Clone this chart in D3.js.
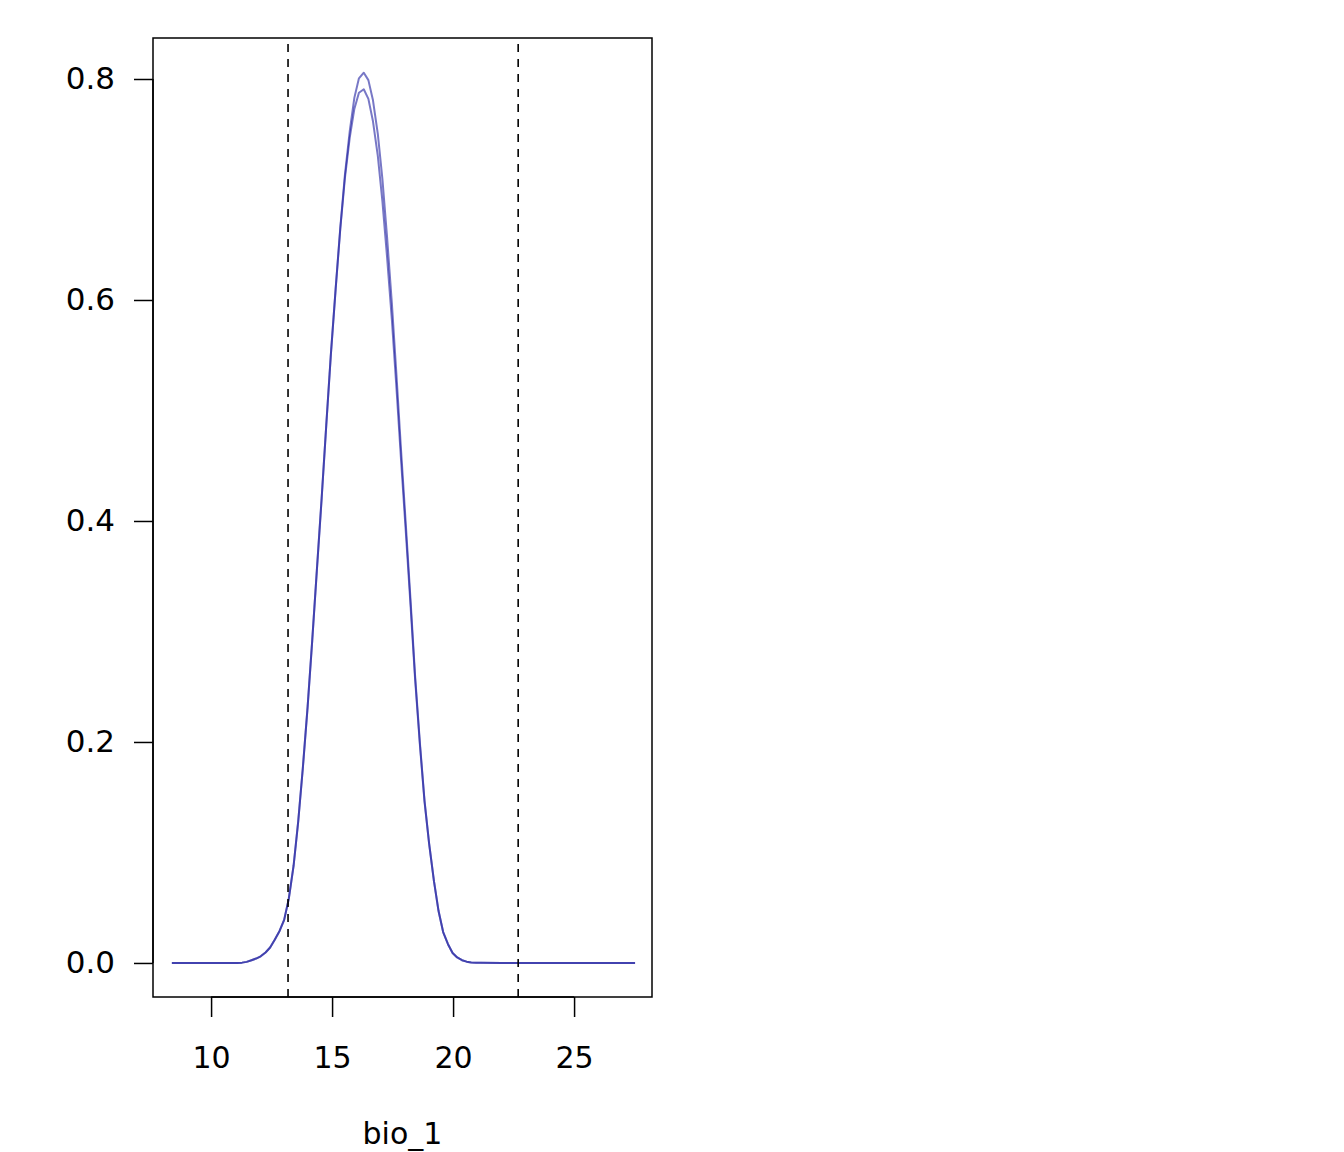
<!DOCTYPE html>
<html>
<head>
<meta charset="utf-8">
<script src="https://cdn.jsdelivr.net/npm/d3@7"></script>
<style>
  html, body { margin: 0; padding: 0; background: #fff; }
  svg { display: block; }
  text { font-family: "DejaVu Sans", sans-serif; fill: #000; }
</style>
</head>
<body>
<svg id="chart" width="1344" height="1152"></svg>
<script>
// ---- data ----
const xValues = [8.38, 9.5, 10.5, 11.09,
  11.28, 11.47, 11.67, 11.86, 12.05, 12.25, 12.44, 12.63, 12.83, 13.02,
  13.21, 13.41, 13.60, 13.79, 13.99, 14.18, 14.37, 14.57, 14.76, 14.95,
  15.15, 15.34, 15.53, 15.73, 15.92, 16.11, 16.31, 16.50, 16.69, 16.89,
  17.08, 17.27, 17.47, 17.66, 17.85, 18.05, 18.24, 18.43, 18.63, 18.82,
  19.01, 19.21, 19.40, 19.59, 19.79, 19.98, 20.17, 20.37, 20.56, 20.75,
  20.95, 21.14, 22.0, 24.0, 26.0, 27.52];

const curveLower = [0, 0, 0, 0,
  0.0003, 0.0010, 0.0025, 0.0040, 0.0060, 0.0095, 0.0140, 0.0210, 0.0290, 0.0390,
  0.0580, 0.0880, 0.1280, 0.1760, 0.2320, 0.2920, 0.3551, 0.4208, 0.4868, 0.5508,
  0.6108, 0.6645, 0.7102, 0.7469, 0.7729, 0.7876, 0.7907, 0.7820, 0.7617, 0.7304,
  0.6893, 0.6395, 0.5823, 0.5203, 0.4552, 0.3889, 0.3243, 0.2570, 0.1970, 0.1460,
  0.1080, 0.0740, 0.0470, 0.0280, 0.0170, 0.0090, 0.0050, 0.0025, 0.0012, 0.0005,
  0.0002, 0.0001, 0, 0, 0, 0];

const curveUpper = [0, 0, 0, 0,
  0.0003, 0.0010, 0.0025, 0.0040, 0.0060, 0.0095, 0.0140, 0.0210, 0.0290, 0.0390,
  0.0580, 0.0880, 0.1280, 0.1760, 0.2320, 0.2920, 0.3551, 0.4208, 0.4868, 0.5508,
  0.6108, 0.6655, 0.7132, 0.7529, 0.7829, 0.8006, 0.8057, 0.7990, 0.7807, 0.7504,
  0.7093, 0.6575, 0.5973, 0.5323, 0.4642, 0.3959, 0.3293, 0.2600, 0.1990, 0.1470,
  0.1080, 0.0740, 0.0470, 0.0280, 0.0170, 0.0090, 0.0050, 0.0025, 0.0012, 0.0005,
  0.0002, 0.0001, 0, 0, 0, 0];

const series = [curveLower, curveUpper];
const dashedX = [13.18, 22.69];
const xTicks = [10, 15, 20, 25];
const yTicks = [0.0, 0.2, 0.4, 0.6, 0.8];
const xLabel = "bio_1";

// ---- layout ----
const svg = d3.select("#chart");
const mLeft = 153, mRight = 652, mTop = 38, mBottom = 997;

const x = d3.scaleLinear().domain([7.6, 28.22]).range([mLeft, mRight]);
const y = d3.scaleLinear().domain([-0.0308, 0.8371]).range([mBottom, mTop]);

// curves
const line = d3.line()
  .x((d, i) => x(xValues[i]))
  .y(d => y(d));

svg.append("g").selectAll("path")
  .data(series)
  .join("path")
  .attr("d", d => line(d))
  .attr("fill", "none")
  .attr("stroke", "rgba(30,30,160,0.6)")
  .attr("stroke-width", 2)
  .attr("stroke-linejoin", "round");

// dashed vertical lines
svg.append("g").selectAll("line")
  .data(dashedX)
  .join("line")
  .attr("x1", d => x(d)).attr("x2", d => x(d))
  .attr("y1", mTop + 6).attr("y2", mBottom)
  .attr("stroke", "#000")
  .attr("stroke-width", 1.6)
  .attr("stroke-dasharray", "8,7");

// box
svg.append("rect")
  .attr("x", mLeft).attr("y", mTop)
  .attr("width", mRight - mLeft).attr("height", mBottom - mTop)
  .attr("fill", "none").attr("stroke", "#000").attr("stroke-width", 1.5);

// x axis
const xAxis = d3.axisBottom(x).tickValues(xTicks).tickSize(20).tickPadding(22)
  .tickFormat(d3.format("d"));
const gx = svg.append("g").attr("transform", `translate(0,${mBottom})`).call(xAxis);
gx.select(".domain").attr("d", `M${x(xTicks[0])},0H${x(xTicks[xTicks.length-1])}`)
  .attr("stroke-width", 1.5);
gx.selectAll(".tick line").attr("stroke-width", 1.5);
gx.selectAll(".tick text").attr("font-size", 30).attr("font-family", "DejaVu Sans")
  .attr("dy", "0.95em");

// y axis
const yAxis = d3.axisLeft(y).tickValues(yTicks).tickSize(19).tickPadding(19)
  .tickFormat(d3.format(".1f"));
const gy = svg.append("g").attr("transform", `translate(${mLeft},0)`).call(yAxis);
gy.select(".domain").attr("d", `M0,${y(yTicks[0])}V${y(yTicks[yTicks.length-1])}`)
  .attr("stroke-width", 1.5);
gy.selectAll(".tick line").attr("stroke-width", 1.5);
gy.selectAll(".tick text").attr("font-size", 31).attr("font-family", "DejaVu Sans");

// x label
svg.append("text")
  .attr("x", (mLeft + mRight) / 2).attr("y", 1144)
  .attr("text-anchor", "middle")
  .attr("font-size", 30)
  .text(xLabel);
</script>
</body>
</html>
